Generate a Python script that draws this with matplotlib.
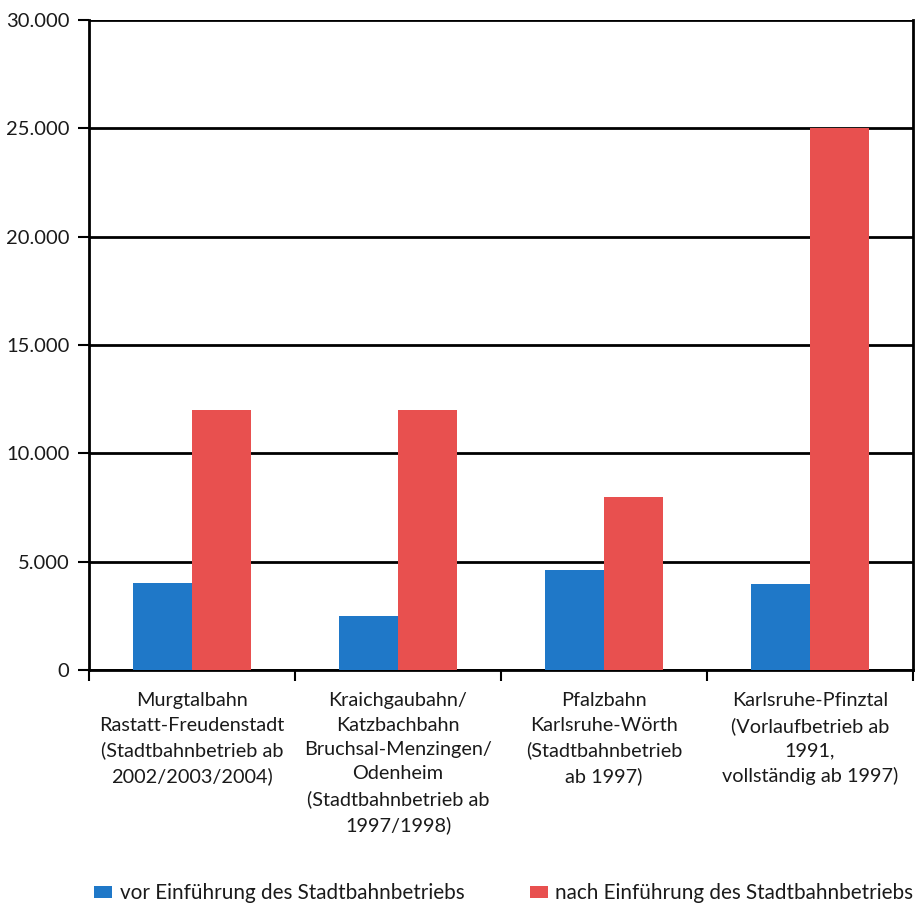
import matplotlib.pyplot as plt
from matplotlib.ticker import FuncFormatter
import numpy as np

categories = [
    "Murgtalbahn\nRastatt-Freudenstadt\n(Stadtbahnbetrieb ab\n2002/2003/2004)",
    "Kraichgaubahn/\nKatzbachbahn\nBruchsal-Menzingen/\nOdenheim\n(Stadtbahnbetrieb ab\n1997/1998)",
    "Pfalzbahn\nKarlsruhe-Wörth\n(Stadtbahnbetrieb\nab 1997)",
    "Karlsruhe-Pfinztal\n(Vorlaufbetrieb ab\n1991,\nvollständig ab 1997)",
]
vor = [4000, 2500, 4600, 3950]
nach = [12000, 12000, 8000, 25000]
series_names = ["vor Einführung des Stadtbahnbetriebs", "nach Einführung des Stadtbahnbetriebs"]

plt.rcParams['font.family'] = ['Lato', 'DejaVu Sans']

fig = plt.figure(figsize=(9.23, 9.07), dpi=100)
ax = fig.add_axes([89/923, 237/907, 824/923, 650/907])

x = np.arange(len(categories))
w = 0.285
b1 = ax.bar(x - w/2, vor, w, color="#1f78c8", zorder=3)
b2 = ax.bar(x + w/2, nach, w, color="#e8504f", zorder=3)

ax.set_xlim(-0.5, 3.5)
ax.set_ylim(0, 30000)
ax.set_yticks(range(0, 30001, 5000))
ax.yaxis.set_major_formatter(FuncFormatter(lambda v, p: f"{int(v):,}".replace(",", ".")))
ax.yaxis.grid(True, color="black", linewidth=2, zorder=1)
ax.tick_params(axis="y", length=8, width=1.5, labelsize=14.5, pad=6, labelcolor="#1a1a1a")

ax.set_xticks(x)
ax.set_xticklabels(categories, fontsize=14.3, linespacing=1.53, color="#1a1a1a")
ax.tick_params(axis="x", which="major", length=0, pad=16)
ax.set_xticks(np.arange(-0.5, 3.6, 1), minor=True)
ax.tick_params(axis="x", which="minor", length=8, width=1.5)

for s in ["left", "bottom", "right"]:
    ax.spines[s].set_linewidth(2)
ax.spines["top"].set_visible(False)

fig.legend([b1, b2], series_names, loc="center", bbox_to_anchor=(0.546, 0.0154),
           ncol=2, frameon=False, fontsize=14.9, handlelength=0.87, handleheight=0.5,
           handletextpad=0.34, columnspacing=3.2, labelcolor="#1a1a1a")

fig.savefig("out.png", dpi=100, facecolor="white")
